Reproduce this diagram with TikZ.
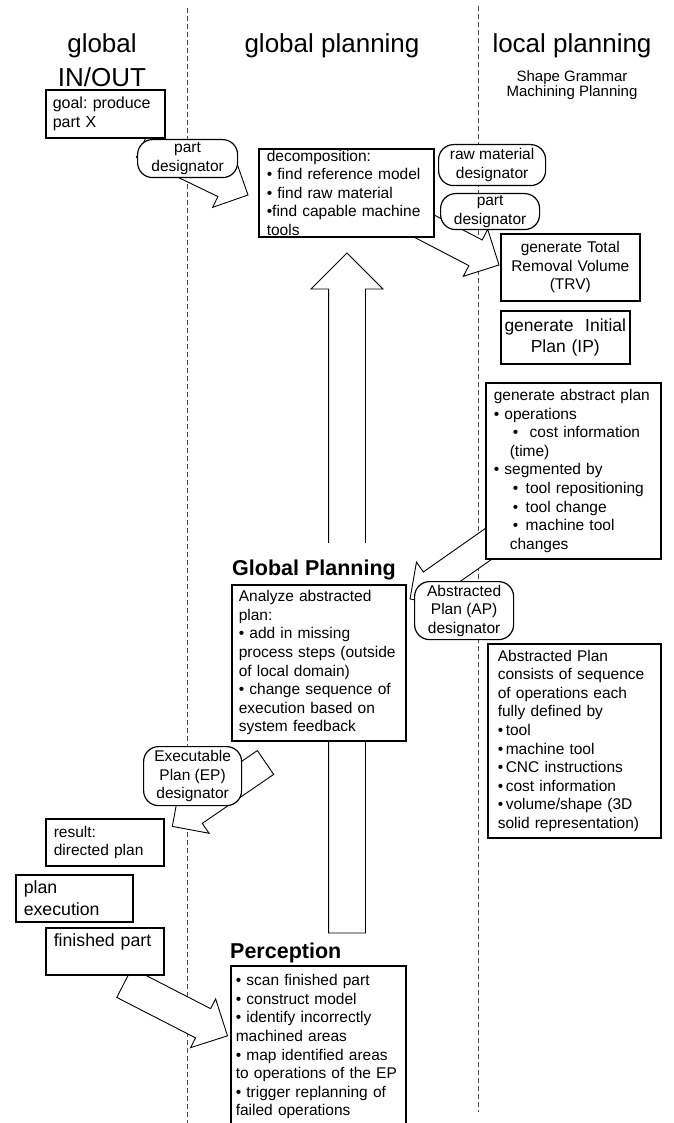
\documentclass[tikz,border=0pt]{standalone}
\usepackage{fontspec}
\setmainfont{Liberation Sans}
\usetikzlibrary{shapes.arrows,calc,backgrounds}
\colorlet{divcol}{black!70}
\frenchspacing
\newcommand{\boxfont}{\fontsize{15.5}{18.6}\selectfont}
\newcommand{\largebox}{\fontsize{17.7}{22}\selectfont}
\newcommand{\headfont}{\fontsize{26}{34}\selectfont}
\newcommand{\subheadfont}{\fontsize{15}{15.5}\selectfont}
\newcommand{\sectfont}{\fontsize{21.5}{26}\selectfont\bfseries}
% wide hollow arrow from #2 (tail) to #3 (tip)
\newcommand{\fatarrow}[3][]{%
  \path let \p1=($(#3)-(#2)$), \n1={atan2(\y1,\x1)}, \n2={veclen(\x1,\y1)} in
    node[fatarr, #1, minimum height=\n2, rotate=\n1, anchor=tail] at (#2) {};}

\begin{document}
\begin{tikzpicture}[x=1pt, y=-1pt,
    box/.style={draw, line width=1.6pt, fill=white, anchor=north west, align=left,
                font=\boxfont, inner xsep=7pt, inner ysep=0pt},
    pill/.style={draw, line width=1.2pt, fill=white, anchor=north west, align=center,
                 font=\boxfont, rounded corners=15pt, inner sep=0pt},
    fatarr/.style={single arrow, draw, line width=0.9pt, fill=white, inner xsep=0pt,
                   inner ysep=14pt, outer sep=0pt, single arrow tip angle=90,
                   minimum width=52pt, single arrow head extend=12pt},
    divider/.style={divcol, line width=0.9pt, dash pattern=on 5pt off 3pt},
    colhead/.style={font=\headfont, align=center, anchor=north, inner sep=0pt},
    secthead/.style={font=\sectfont, anchor=base west, inner sep=0pt}
  ]
  \useasboundingbox (0,0) rectangle (673,1123);
  % column heads
  \node[colhead] (inouthead) at (102,33) {global\\IN/OUT};
  \node[colhead] (globalhead) at (332,33) {global planning};
  \node[colhead] (localhead) at (572,33) {local planning};
  \node[colhead, font=\subheadfont] (localsub) at (572,70) {Shape Grammar\\Machining Planning};

  % global IN/OUT
  \node[box, font=\fontsize{16}{19}\selectfont, text width=105pt, minimum height=48pt]
    (goal) at (45,89) {goal: produce\\part X};
  \node[box, inner xsep=8pt, text width=102pt, minimum height=47pt]
    (result) at (45,818) {result:\\directed plan};
  \node[box, font=\largebox, inner xsep=8pt, text width=101pt, minimum height=47pt]
    (planexec) at (15,874) {plan\\execution};
  \node[box, font=\largebox, inner xsep=8pt, text width=102pt, minimum height=47pt]
    (finished) at (45,927) {finished part\\\mbox{}};

  % global planning
  \node[box, inner xsep=8pt, text width=159pt, minimum height=88pt] (decomp) at (258,148)
    {decomposition:\\• find reference model\\• find raw material\\•find capable machine\\tools};
  \node[secthead, fill=white, inner ysep=16pt] (gptitle) at (232,575) {Global Planning};
  \node[box, text width=160pt, minimum height=156pt] (gpbox) at (231,584)
    {Analyze abstracted\\plan:\\• add in missing\\process steps (outside\\of local domain)\\
     • change sequence of\\execution based on\\system feedback};
  \node[secthead] (perctitle) at (230,958) {Perception};
  \node[box, inner xsep=5pt, text width=165pt, minimum height=162pt] (percbox) at (230,965)
    {• scan finished part\\• construct model\\• identify incorrectly\\machined areas\\
     • map identified areas\\to operations of the EP\\• trigger replanning of\\failed operations};

  % local planning
  \node[box, align=center, text width=125pt, minimum height=67pt] (trv) at (500,233)
    {generate Total\\Removal Volume\\(TRV)};
  \node[box, align=center, font=\fontsize{17.5}{20.5}\selectfont, inner xsep=2pt,
        text width=125pt, minimum height=53pt] (initplan) at (500,310)
    {generate\ \ Initial\\Plan (IP)};
  \node[box, inner xsep=8pt, text width=159pt, minimum height=176pt] (absplan) at (485,382)
    {generate abstract plan\\• operations\\
     \hspace*{19pt}•\hspace{11.5pt}cost information\\\hspace*{16pt}(time)\\
     • segmented by\\\hspace*{19pt}•\hspace{7.5pt}tool repositioning\\
     \hspace*{19pt}•\hspace{7.5pt}tool change\\\hspace*{19pt}•\hspace{7.5pt}machine tool\\
     \hspace*{16pt}changes};
  \node[box, inner xsep=10pt, text width=153pt, minimum height=194pt] (apdef) at (487,643)
    {Abstracted Plan\\consists of sequence\\of operations each\\fully defined by\\
     •\,tool\\•\,machine tool\\•\,CNC instructions\\•\,cost information\\
     •\,volume/shape (3D\\solid representation)};

  % designators
  \node[pill, minimum width=100pt, minimum height=38pt] (partdesa) at (137,139) {part\\designator};
  \node[pill, minimum width=107pt, minimum height=41pt] (rawdes) at (438,144) {raw material\\designator};
  \node[pill, minimum width=99pt, minimum height=36pt] (partdesb) at (440,193) {part\\designator};
  \node[pill, minimum width=99pt, minimum height=58pt] (apdes) at (414,581) {Abstracted\\Plan (AP)\\designator};
  \node[pill, minimum width=98pt, minimum height=59pt] (epdes) at (143,746) {Executable\\Plan (EP)\\designator};

  % arrow ends
  \coordinate (goaltail) at (142.7,144.3);
  \coordinate (dectip) at (248,195);
  \coordinate (dectail) at (397,212);
  \coordinate (trvtip) at (499,265);
  \coordinate (abstail) at (504,533);
  \coordinate (gptip) at (410,599);
  \coordinate (eptail) at (265.5,762.5);
  \coordinate (resulttip) at (172,826.6);
  \coordinate (finishedtail) at (124.3,982.8);
  \coordinate (perctip) at (227.5,1035.8);
  \coordinate (upbase) at (347,933);
  \coordinate (uptip) at (347,253);

  \begin{scope}[on background layer]
    \draw[divider] (187,8) -- (187,1123);
    \draw[divider] (478,6) -- (478,1112);
    \fatarrow[inner ysep=18pt, minimum width=71pt, single arrow head extend=17.5pt]{upbase}{uptip}
    \fatarrow{goaltail}{dectip}
    \fatarrow{dectail}{trvtip}
    \fatarrow{abstail}{gptip}
    \fatarrow{eptail}{resulttip}
    \fatarrow[inner ysep=16pt, minimum width=54pt, single arrow head extend=11pt]{finishedtail}{perctip}
  \end{scope}
\end{tikzpicture}
\end{document}
